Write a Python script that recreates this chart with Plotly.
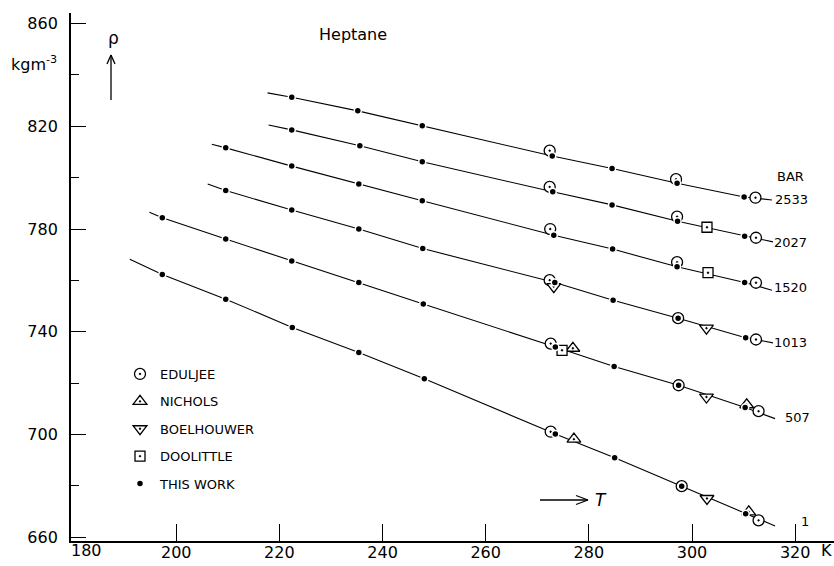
import plotly.graph_objects as go

# ---------------------------------------------------------------------------
# Heptane density rho (kg m^-3) against temperature T (K) along six isobars
# ---------------------------------------------------------------------------
pressures = ["2533", "2027", "1520", "1013", "507", "1"]

# This work: measured points on each isobar
t_2533 = [222.4, 235.2, 247.7, 272.9, 284.5, 297.1, 310.1]
rho_2533 = [831.3, 826.0, 820.2, 808.4, 803.6, 797.8, 792.5]
t_2027 = [222.4, 235.6, 247.7, 273.0, 284.5, 297.2, 310.2]
rho_2027 = [818.6, 812.4, 806.2, 794.5, 789.4, 783.0, 777.2]
t_1520 = [209.6, 222.4, 235.4, 247.7, 273.2, 284.6, 297.1, 310.2]
rho_1520 = [811.6, 804.5, 797.5, 791.0, 777.6, 772.2, 765.3, 759.2]
t_1013 = [209.6, 222.4, 235.4, 247.8, 273.4, 284.7, 297.3, 310.4]
rho_1013 = [795.0, 787.4, 780.0, 772.4, 759.2, 752.3, 745.3, 737.7]
t_507 = [197.3, 209.6, 222.4, 235.4, 247.9, 273.5, 284.9, 297.4, 310.3]
rho_507 = [784.4, 776.1, 767.6, 759.2, 750.8, 734.1, 726.5, 719.2, 710.5]
t_1 = [197.3, 209.6, 222.5, 235.4, 248.1, 273.5, 285.0, 298.0, 310.4]
rho_1 = [762.3, 752.7, 741.7, 731.9, 721.7, 700.2, 691.0, 679.9, 669.2]

# Ends of each smoothed isobar (start T, start rho, end T, end rho)
curve_ends = {
    "2533": (217.7, 833.0, 315.5, 791.3),
    "2027": (217.9, 820.5, 315.7, 775.0),
    "1520": (206.9, 813.0, 315.5, 756.2),
    "1013": (206.1, 797.5, 315.7, 735.7),
    "507": (194.8, 786.5, 316.1, 706.2),
    "1": (191.0, 768.2, 316.1, 664.4),
}

# Literature values
eduljee_t = [272.4, 296.9, 312.3, 272.4, 297.1, 312.4, 272.5, 297.1, 312.4,
             272.4, 297.3, 312.4, 272.6, 297.4, 312.9, 272.6, 298.0, 312.9]
eduljee_rho = [810.5, 799.4, 792.2, 796.4, 784.8, 776.6, 780.0, 767.1, 759.1,
               760.1, 745.3, 737.0, 735.4, 719.2, 709.1, 701.1, 679.9, 666.6]
nichols_t = [276.9, 310.6, 277.1, 311.0]
nichols_rho = [733.6, 711.6, 698.2, 669.9]
boelhouwer_t = [273.2, 302.8, 302.8, 302.9]
boelhouwer_rho = [757.6, 741.4, 714.6, 675.1]
doolittle_t = [302.9, 303.1, 274.8]
doolittle_rho = [780.7, 763.0, 732.8]

x_ticks = [200, 220, 240, 260, 280, 300, 320]
y_ticks = [660, 700, 740, 780, 820, 860]

work_t = {"2533": t_2533, "2027": t_2027, "1520": t_1520,
          "1013": t_1013, "507": t_507, "1": t_1}
work_rho = {"2533": rho_2533, "2027": rho_2027, "1520": rho_1520,
            "1013": rho_1013, "507": rho_507, "1": rho_1}

# ---------------------------------------------------------------------------
W, H = 834, 566
ML, MR, MT, MB = 71, 0, 13, 25
PW, PH = W - ML - MR, H - MT - MB
FONT = "DejaVu Sans"


def px(x):
    return (x - ML) / PW


def py(y):
    return (H - MB - y) / PH


def label(x, y, text, size):
    return dict(x=px(x), y=py(y), xref="paper", yref="paper", text=text,
                showarrow=False, xanchor="center", yanchor="middle",
                font=dict(size=size, family=FONT, color="black"))


fig = go.Figure()

# isobars
for p in pressures:
    t0, r0, t1, r1 = curve_ends[p]
    fig.add_trace(go.Scatter(
        x=[t0] + work_t[p] + [t1], y=[r0] + work_rho[p] + [r1],
        mode="lines", line=dict(color="black", width=1.1),
        showlegend=False, hoverinfo="skip"))

mk_line = dict(color="black", width=1.3)
fig.add_trace(go.Scatter(
    x=eduljee_t, y=eduljee_rho, mode="markers", name="EDULJEE",
    legendgroup="a",
    marker=dict(symbol="circle-dot", size=11, color="white", line=mk_line)))
fig.add_trace(go.Scatter(
    x=nichols_t, y=nichols_rho, mode="markers", name="NICHOLS",
    legendgroup="b",
    marker=dict(symbol="triangle-up-dot", size=12, color="white", line=mk_line)))
fig.add_trace(go.Scatter(
    x=boelhouwer_t, y=boelhouwer_rho, mode="markers", name="BOELHOUWER",
    legendgroup="c",
    marker=dict(symbol="triangle-down-dot", size=12, color="white", line=mk_line)))
fig.add_trace(go.Scatter(
    x=doolittle_t, y=doolittle_rho, mode="markers", name="DOOLITTLE",
    legendgroup="d",
    marker=dict(symbol="square-dot", size=10, color="white", line=mk_line)))

all_t, all_rho = [], []
for p in pressures:
    all_t += work_t[p]
    all_rho += work_rho[p]
fig.add_trace(go.Scatter(
    x=all_t, y=all_rho, mode="markers", name="THIS WORK", legendgroup="e",
    marker=dict(symbol="circle", size=7, color="black",
                line=dict(color="white", width=1.5))))

# isobar labels
label_pos = {"2533": (791, 200), "2027": (790, 242), "1520": (790, 288),
             "1013": (790, 342.5), "507": (797, 417), "1": (805, 521)}
annotations = [label(*label_pos[p], p, 13) for p in pressures]
annotations += [
    label(790, 177, "BAR", 13),
    label(353, 34, "Heptane", 16),
    label(113, 38, "ρ", 17),
    label(34, 64, "kgm<sup>-3</sup>", 16),
    label(601, 500, "<i>T</i>", 17),
    label(86, 550, "180", 16),
    label(826, 550, "K", 16),
]


def seg(x0, y0, x1, y1, w=1.3):
    return dict(type="line", xref="paper", yref="paper",
                x0=px(x0), y0=py(y0), x1=px(x1), y1=py(y1),
                line=dict(color="black", width=w))


shapes = [
    # rho arrow
    seg(111, 100, 111, 55), seg(111, 55, 107, 64), seg(111, 55, 115, 64),
    # T arrow
    seg(540, 500, 588, 500), seg(588, 500, 576, 495.5), seg(588, 500, 576, 504.5),
]

fig.update_layout(
    width=W, height=H,
    margin=dict(l=ML, r=MR, t=MT, b=MB, pad=0),
    paper_bgcolor="white", plot_bgcolor="white",
    font=dict(family=FONT, color="black", size=16),
    showlegend=True,
    legend=dict(x=px(120), y=py(359), xanchor="left", yanchor="top",
                bgcolor="rgba(0,0,0,0)", borderwidth=0,
                font=dict(size=13, family=FONT, color="black"),
                tracegroupgap=7.5, itemwidth=30),
    annotations=annotations,
    shapes=shapes,
    xaxis=dict(range=[179.6, 179.6 + PW / 5.158], tickvals=x_ticks,
               ticktext=[str(v) for v in x_ticks],
               ticks="inside", ticklen=17, tickwidth=1.2, tickcolor="black",
               showline=True, linecolor="black", linewidth=1.5,
               showgrid=False, zeroline=False, ticklabelstandoff=-4,
               tickfont=dict(size=16, family=FONT)),
    yaxis=dict(range=[658.56, 864.1], tickvals=y_ticks,
               ticks="inside", ticklen=15, tickwidth=1.2, tickcolor="black",
               minor=dict(tickvals=[680, 720, 760, 800, 840], ticks="inside",
                          ticklen=8, tickwidth=1.2, tickcolor="black"),
               showline=True, linecolor="black", linewidth=1.8,
               showgrid=False, zeroline=False, ticklabelstandoff=8,
               tickfont=dict(size=16, family=FONT)),
)

fig.write_html("out.html")
